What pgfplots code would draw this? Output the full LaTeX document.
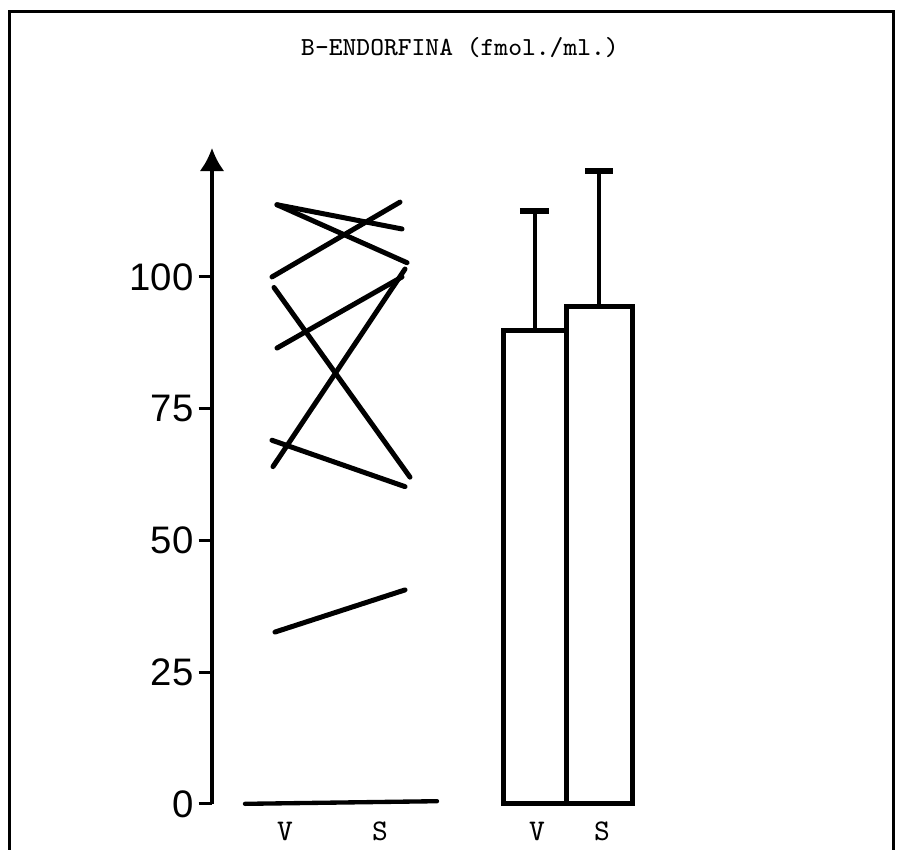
\documentclass[border=0pt]{standalone}
\usepackage{fontspec}
\setmainfont{Liberation Sans}
\usepackage{pgfplots}
\pgfplotsset{compat=1.18}
\usetikzlibrary{arrows.meta}
\begin{document}
\begin{tikzpicture}
\begin{axis}[
  scale only axis,
  width=204.3pt, height=196.8pt,
  xmin=212, xmax=893, ymin=0, ymax=124.5,
  clip=false,
  axis y line=left,
  axis x line*=bottom,
  y axis line style={line width=1.2pt, -{Latex[length=7pt,width=7.5pt]}},
  x axis line style={draw=none},
  ytick={0,25,50,75,100},
  tick align=outside,
  major tick length=4pt,
  ytick style={line width=0.9pt, black},
  xtick style={draw=none},
  xtick={285,380,537,602},
  xticklabels={V,S,V,S},
  xticklabel style={font=\fontsize{9}{10}\ttfamily, anchor=base, yshift=-7pt},
  yticklabel style={font=\fontsize{11.5}{12}\selectfont, xshift=2pt},
  /pgf/number format/assume math mode=true,
]
% individual subjects (V -> S)
\addplot[black, line width=1.5pt, line cap=round] coordinates {(277,113.7) (402,109.1)};
\addplot[black, line width=1.5pt, line cap=round] coordinates {(277,113.7) (407,102.7)};
\addplot[black, line width=1.5pt, line cap=round] coordinates {(272,100.0) (400,114.2)};
\addplot[black, line width=1.5pt, line cap=round] coordinates {(274,98.0) (410,62.0)};
\addplot[black, line width=1.5pt, line cap=round] coordinates {(277,86.5) (402,100.0)};
\addplot[black, line width=1.5pt, line cap=round] coordinates {(273,64.0) (405,101.5)};
\addplot[black, line width=1.5pt, line cap=round] coordinates {(272,69.0) (405,60.2)};
\addplot[black, line width=1.5pt, line cap=round] coordinates {(275,32.6) (405,40.6)};
\addplot[black, line width=1.3pt, line cap=round] coordinates {(245,0.0) (437,0.5)};
% mean bars with SD
\addplot[ybar, bar shift=0pt, bar width=63, fill=white, draw=black, line width=1.5pt,
  error bars/.cd, y dir=plus, y explicit,
  error bar style={line width=1.2pt, black},
  error mark options={rotate=90, mark size=4.4pt, line width=1.6pt, black}]
  coordinates {(534.5,89.9) +- (0,22.6)};
\addplot[ybar, bar shift=0pt, bar width=66, fill=white, draw=black, line width=1.5pt,
  error bars/.cd, y dir=plus, y explicit,
  error bar style={line width=1.2pt, black},
  error mark options={rotate=90, mark size=4.1pt, line width=1.6pt, black}]
  coordinates {(599,94.3) +- (0,25.8)};
% title and frame
\node[font=\fontsize{7.8}{9}\ttfamily] at (axis cs:460,143.5) {B-ENDORFINA (fmol./ml.)};
\draw[line width=0.9pt] (axis cs:10,-8.73) -- (axis cs:10,150.3) -- (axis cs:893,150.3) -- (axis cs:893,-8.73);
\coordinate (BL) at (axis cs:0,-8.73);
\coordinate (TR) at (axis cs:903,152.56);
\end{axis}
\pgfresetboundingbox
\useasboundingbox (BL) rectangle (TR);
\end{tikzpicture}
\end{document}
